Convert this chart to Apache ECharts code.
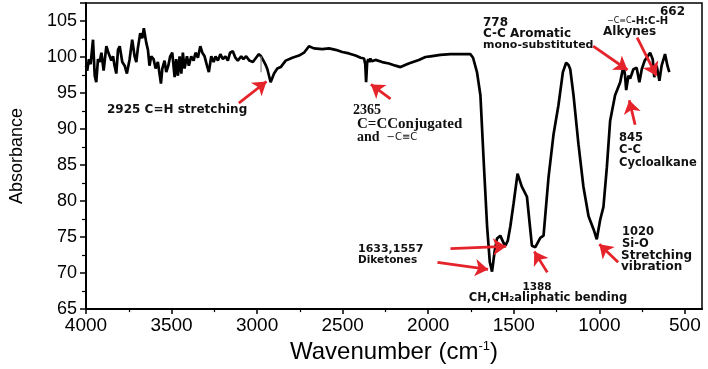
<!DOCTYPE html>
<html>
<head>
<meta charset="utf-8">
<script src="https://cdn.jsdelivr.net/npm/echarts@6/dist/echarts.min.js"></script>
<style>
  html, body { margin: 0; padding: 0; background: #fff; }
  #chart { width: 708px; height: 369px; }
</style>
</head>
<body>
<div id="chart"></div>
<script>
// FTIR spectrum, wavenumber (cm-1) vs absorbance
const wavenumber = [4000,3993,3983,3973,3959,3949,3940,3930,3920,3910,3897,3881,3872,3862,3852,3842,3833,3823,3813,3803,
  3788,3774,3761,3745,3730,3716,3706,3697,3683,3671,3662,3648,3638,3629,3619,3605,3593,3580,3562,3554,
  3541,3531,3519,3508,3496,3482,3473,3463,3453,3443,3434,3424,3410,3399,3385,3371,3360,3346,3332,3320,
  3307,3293,3282,3268,3254,3243,3229,3215,3200,3185,3171,3158,3142,3127,3113,3093,3080,3064,3045,3025,
  3006,2990,2977,2963,2948,2940,2921,2901,2882,2862,2833,2794,2755,2726,2697,2668,2619,2580,2541,2502,
  2464,2425,2395,2375,2368,2363,2357,2351,2345,2338,2330,2308,2269,2230,2191,2162,2114,2055,2016,1987,
  1958,1929,1870,1812,1754,1738,1715,1695,1676,1656,1640,1627,1612,1598,1579,1560,1549,1535,1520,1501,
  1478,1453,1423,1394,1374,1345,1326,1297,1268,1239,1213,1194,1180,1170,1151,1122,1093,1063,1034,1015,
  995,976,956,937,908,878,859,850,843,830,820,801,782,766,752,735,703,688,679,665,
  649,636,616,602,591];
const absorbance = [98.8,98.1,99.7,99.0,102.4,97.4,96.5,99.7,99.3,100.6,98.1,101.5,100.8,101.0,99.5,100.1,98.8,97.7,101.0,101.5,
  99.3,98.8,97.7,99.7,102.4,100.1,99.3,101.2,103.3,102.6,104.0,102.0,101.0,98.8,100.1,99.7,98.4,99.3,96.3,98.4,
  99.5,97.9,98.8,100.1,100.6,97.2,99.7,97.4,100.1,97.7,100.6,98.4,100.1,98.8,100.1,99.5,100.6,99.9,101.5,100.6,
  100.1,98.8,97.9,100.1,99.3,100.1,99.5,100.4,99.7,100.1,99.5,100.6,100.8,99.9,99.5,100.1,99.7,100.1,99.5,99.3,
  99.9,100.4,100.1,99.5,98.8,98.3,96.5,97.7,98.4,98.6,99.5,99.9,100.2,100.6,101.5,101.2,101.1,101.2,101.0,100.7,
  100.5,100.2,99.9,99.8,99.0,96.5,99.2,99.7,99.3,99.8,99.4,99.6,99.3,99.1,98.8,98.6,99.1,99.6,100.0,100.1,
  100.2,100.3,100.4,100.4,100.4,99.9,97.9,94.7,85.6,76.5,71.5,70.2,73.0,74.8,75.2,74.2,73.8,74.5,76.5,79.7,
  83.8,82.0,80.6,73.8,73.6,74.9,75.2,83.3,89.2,93.3,97.9,99.2,98.9,98.3,94.7,87.9,82.0,77.9,76.1,74.7,
  77.4,79.2,84.7,91.1,94.7,96.5,98.8,97.5,95.4,97.4,97.0,98.3,98.5,96.5,98.3,99.5,100.6,99.7,97.2,98.8,
  96.7,98.8,100.4,98.8,97.9];

// thin grey marker near 2977
const markerWavenumber = [2977, 2977];
const markerAbsorbance = [100.1, 97.9];

const xTickValues = [4000, 3500, 3000, 2500, 2000, 1500, 1000, 500];
const xMinorValues = [3750, 3250, 2750, 2250, 1750, 1250, 750];

// annotation arrows [from, to] in (wavenumber, absorbance)
const arrows = [
  [[3107, 93.6], [2945, 96.6]],
  [[2220, 94.2], [2335, 96.2]],
  [[1036, 101.5], [835, 98.2]],
  [[779, 102.7], [667, 97.4]],
  [[791, 90.6], [825, 94.0]],
  [[890, 71.5], [1000, 74.0]],
  [[1870, 73.4], [1545, 73.7]],
  [[1946, 71.5], [1650, 70.5]],
  [[1304, 70.1], [1380, 73.0]]
];

const chart = echarts.init(document.getElementById('chart'));

const sans = 'DejaVu Sans';
const serif = 'Liberation Serif';
function txt(x, y, text, size, family, extra) {
  return {
    type: 'text', x: x, y: y, silent: true,
    style: Object.assign({
      text: text, fontSize: size, fontWeight: 'bold', fontFamily: family || sans,
      fill: '#111', verticalAlign: 'middle', align: 'left'
    }, extra || {})
  };
}

chart.setOption({
  animation: false,
  grid: { left: 85, right: 6, top: 3, bottom: 54, show: true, borderColor: '#000', borderWidth: 1.5 },
  xAxis: [{
    type: 'value', min: 400, max: 4000, inverse: true,
    name: 'Wavenumber (cm{sup|-1})', nameLocation: 'middle', nameGap: 22,
    nameTextStyle: {
      fontSize: 24, fontFamily: 'Liberation Sans', color: '#000',
      rich: { sup: { fontSize: 13, fontFamily: 'Liberation Sans', verticalAlign: 'top', padding: [0, 0, 10, 0] } }
    },
    axisLine: { lineStyle: { color: '#000', width: 2 } },
    axisTick: { customValues: xTickValues, length: 5, lineStyle: { color: '#000', width: 1.5 } },
    axisLabel: {
      customValues: xTickValues, fontSize: 19, fontFamily: 'Liberation Sans', color: '#000', margin: 7,
      formatter: v => String(v)
    },
    splitLine: { show: false }
  }, {
    type: 'value', min: 400, max: 4000, inverse: true, position: 'bottom',
    axisLine: { show: false },
    axisTick: { customValues: xMinorValues, length: 3, lineStyle: { color: '#000', width: 1.2 } },
    axisLabel: { show: false },
    splitLine: { show: false }
  }],
  yAxis: {
    type: 'value', min: 65, max: 107.5, interval: 5,
    name: 'Absorbance', nameLocation: 'middle', nameGap: 60,
    nameTextStyle: { fontSize: 18, fontFamily: 'Liberation Sans', color: '#000' },
    axisLine: { show: true, lineStyle: { color: '#000', width: 2 } },
    axisTick: { length: 6, lineStyle: { color: '#000', width: 1.5 } },
    minorTick: { show: true, splitNumber: 2, length: 4, lineStyle: { color: '#000', width: 1.2 } },
    axisLabel: { fontSize: 18, fontFamily: 'Liberation Sans', color: '#000', margin: 9, showMaxLabel: false },
    splitLine: { show: false }
  },
  series: [{
    type: 'line',
    data: wavenumber.map((w, i) => [w, absorbance[i]]),
    showSymbol: false,
    lineStyle: { color: '#000', width: 2.7 },
    silent: true,
    markLine: {
      silent: true,
      symbol: ['none', 'arrow'],
      symbolSize: 13,
      label: { show: false },
      lineStyle: { color: '#e5232b', width: 2.8, type: 'solid' },
      data: arrows.map(a => [{ coord: a[0] }, { coord: a[1] }])
    }
  }, {
    type: 'line',
    data: markerWavenumber.map((w, i) => [w, markerAbsorbance[i]]),
    showSymbol: false, silent: true,
    lineStyle: { color: '#888', width: 1.2 }
  }],
  graphic: [
    txt(107, 110, '2925 C=H stretching', 12),
    txt(353, 110, '2365', 14, serif),
    txt(357, 124, 'C=CConjugated', 15, serif),
    {
      type: 'text', x: 357, y: 137, silent: true,
      style: {
        text: '{a|and  }{b|\u2212C\u2261C}', verticalAlign: 'middle',
        rich: {
          a: { fontSize: 14, fontWeight: 'bold', fontFamily: serif, fill: '#111' },
          b: { fontSize: 10, fontFamily: sans, fill: '#111' }
        }
      }
    },
    txt(483, 23, '778', 12),
    txt(483, 34, 'C-C Aromatic', 12),
    txt(483, 45, 'mono-substituted', 11),
    txt(660, 12, '662', 12),
    {
      type: 'text', x: 607, y: 21, silent: true,
      style: {
        text: '{b|\u2212C\u2261C}{a|-H:C-H}', verticalAlign: 'middle',
        rich: {
          a: { fontSize: 10, fontWeight: 'bold', fontFamily: sans, fill: '#111' },
          b: { fontSize: 8, fontFamily: sans, fill: '#111' }
        }
      }
    },
    txt(603, 32, 'Alkynes', 12),
    txt(619, 138, '845', 11.5),
    txt(619, 150, 'C-C', 11.5),
    txt(619, 163, 'Cycloalkane', 11.5),
    txt(622, 232, '1020', 11.5),
    txt(622, 244, 'Si-O', 11.5),
    txt(621, 256, 'Stretching', 12),
    txt(621, 267, 'vibration', 12),
    txt(358, 249, '1633,1557', 11),
    txt(358, 260, 'Diketones', 10.5),
    txt(537, 287, '1388', 10.5, sans, { align: 'center' }),
    txt(548, 298, 'CH,CH\u2082aliphatic bending', 11.5, sans, { align: 'center' })
  ]
});
</script>
</body>
</html>
